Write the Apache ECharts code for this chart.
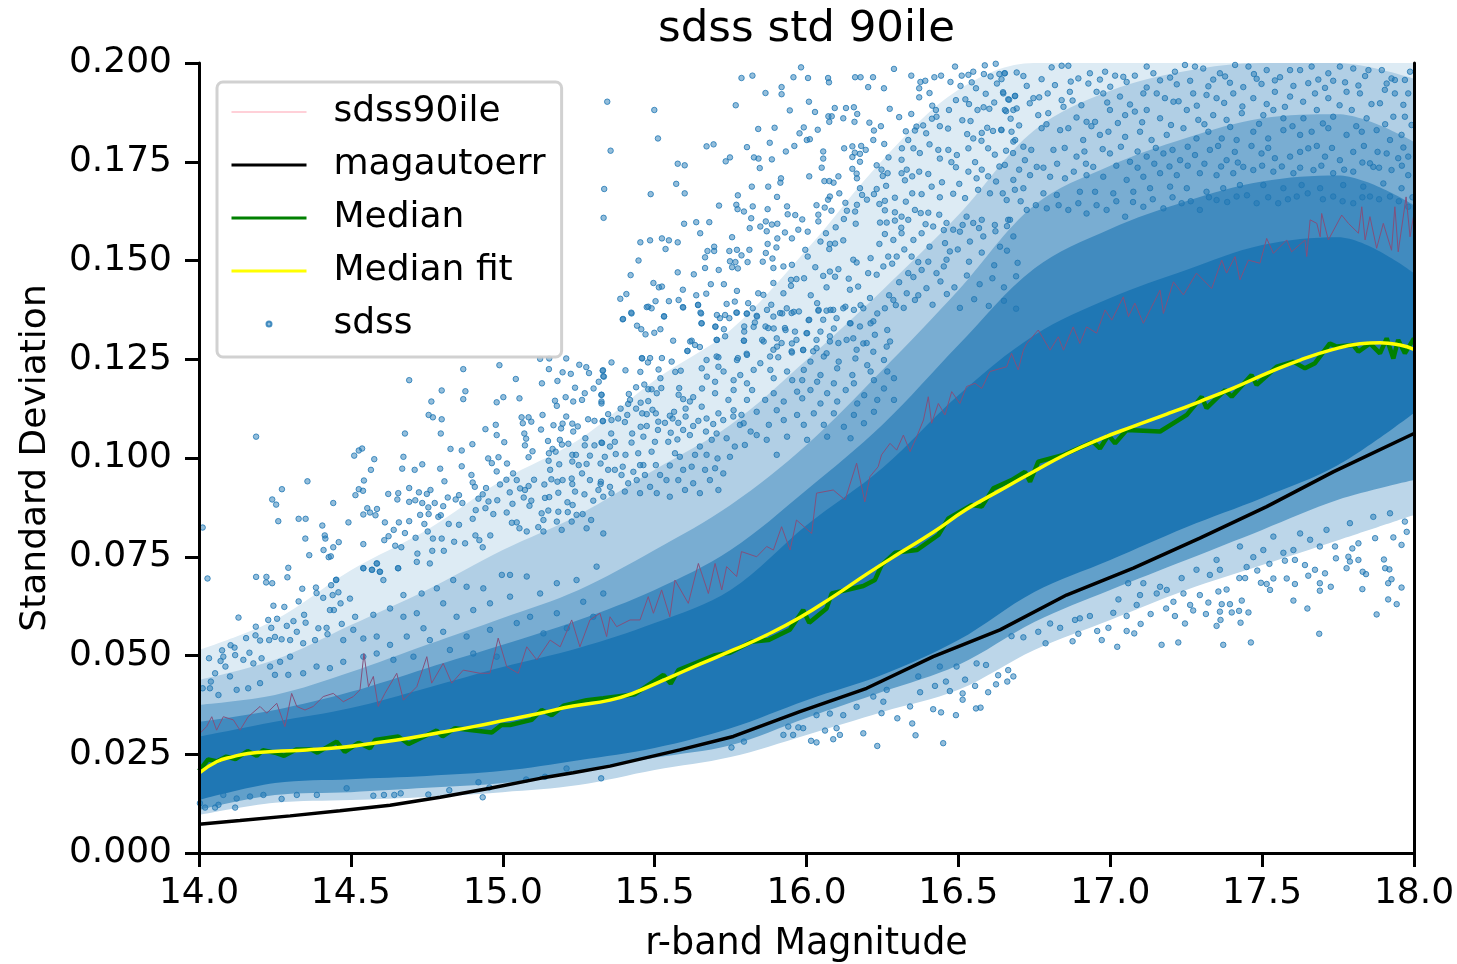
<!DOCTYPE html>
<html>
<head>
<meta charset="utf-8">
<title>sdss std 90ile</title>
<script src="https://cdn.jsdelivr.net/npm/echarts@6/dist/echarts.min.js"></script>
<style>
  html, body { margin: 0; padding: 0; background: #fff; }
  #chart { width: 1457px; height: 964px; }
</style>
</head>
<body>
<div id="chart"></div>
<script>
// edges of the crowded part of the cloud
const bandMag = [14, 14.25, 14.5, 14.75, 15, 15.25, 15.5, 15.75, 16, 16.25, 16.5, 16.75, 17, 17.25, 17.5, 17.75, 18];
const coreHigh = [.0294, .0332, .0367, .0418, .0471, .0519, .0582, .0666, .0830, .0975, .1159, .1311, .1405, .1476, .1539, .1559, .1468];
const coreLow = [.0134, .0177, .0187, .0195, .0208, .0235, .0266, .0316, .0387, .0451, .0539, .0661, .0742, .0825, .0899, .0982, .1114];
const innerHigh = [.0332, .0362, .0408, .0468, .0527, .0590, .0666, .0767, .0919, .1084, .1286, .1480, .1580, .1650, .1700, .1715, .1640];
const midHigh = [.0375, .0400, .0458, .0527, .0595, .0666, .0767, .0881, .1033, .1223, .1425, .1640, .1740, .1810, .1860, .1870, .1800];
const midLow = [.0109, .0147, .0154, .0165, .0177, .0205, .0241, .0273, .0342, .0408, .0476, .0585, .0666, .0742, .0818, .0894, .0944];
const wideHigh = [.0438, .0489, .0577, .0666, .0767, .0856, .0970, .1084, .1248, .1425, .1615, .1830, .1930, .1980, .2, .2, .1960];
const hazeHigh = [.0514, .0590, .0716, .0818, .0944, .1046, .1197, .1324, .1527, .1754, .1932, .2, .2, .2, .2, .2, .2];
const hazeLow = [.0096, .0127, .0134, .0142, .0154, .0172, .0210, .0243, .0299, .0357, .0413, .0514, .0590, .0666, .0729, .0792, .0856];

const sdss90ile = [[14,.0290],[14.003,.0303],[14.025,.0320],[14.042,.0345],[14.058,.0311],[14.080,.0345],[14.113,.0337],[14.135,.0311],[14.162,.0345],[14.201,.0371],[14.223,.0354],[14.256,.0379],[14.283,.0320],[14.305,.0404],[14.322,.0371],[14.349,.0362],[14.376,.0371],[14.409,.0396],[14.442,.0404],[14.475,.0383],[14.508,.0396],[14.530,.0413],[14.543,.0505],[14.558,.0421],[14.574,.0447],[14.590,.0371],[14.612,.0404],[14.651,.0455],[14.673,.0387],[14.717,.0421],[14.750,.0497],[14.766,.0430],[14.804,.0480],[14.832,.0430],[14.870,.0463],[14.925,.0455],[14.958,.0455],[14.985,.0544],[15.013,.0472],[15.051,.0455],[15.079,.0522],[15.112,.0489],[15.156,.0539],[15.189,.0522],[15.227,.0590],[15.254,.0522],[15.287,.0590],[15.320,.0607],[15.342,.0548],[15.353,.0598],[15.375,.0573],[15.419,.0590],[15.452,.0590],[15.479,.0649],[15.496,.0607],[15.523,.0666],[15.550,.0598],[15.567,.0691],[15.611,.0632],[15.644,.0733],[15.677,.0657],[15.699,.0733],[15.721,.0666],[15.737,.0725],[15.770,.0700],[15.786,.0763],[15.836,.0750],[15.869,.0776],[15.891,.0767],[15.918,.0826],[15.946,.0767],[15.967,.0843],[16.017,.0809],[16.033,.0911],[16.088,.0919],[16.127,.0894],[16.165,.0987],[16.192,.0889],[16.209,.0953],[16.236,.0978],[16.247,.1008],[16.275,.1037],[16.297,.1020],[16.319,.1058],[16.341,.1016],[16.363,.1054],[16.385,.1096],[16.401,.1155],[16.412,.1088],[16.434,.1138],[16.456,.1109],[16.478,.1168],[16.505,.1138],[16.527,.1181],[16.555,.1189],[16.577,.1176],[16.604,.1219],[16.659,.1231],[16.675,.1265],[16.697,.1223],[16.714,.1273],[16.725,.1290],[16.763,.1324],[16.802,.1273],[16.829,.1307],[16.846,.1273],[16.878,.1332],[16.900,.1290],[16.922,.1332],[16.955,.1316],[16.983,.1375],[17.005,.1349],[17.043,.1408],[17.060,.1358],[17.081,.1392],[17.109,.1341],[17.164,.1425],[17.175,.1366],[17.208,.1446],[17.241,.1413],[17.284,.1468],[17.334,.1429],[17.367,.1501],[17.383,.1468],[17.411,.1510],[17.427,.1451],[17.455,.1501],[17.493,.1493],[17.515,.1556],[17.537,.1518],[17.581,.1552],[17.597,.1522],[17.641,.1552],[17.647,.1510],[17.658,.1603],[17.680,.1594],[17.691,.1560],[17.696,.1619],[17.718,.1552],[17.762,.1615],[17.784,.1594],[17.817,.1569],[17.828,.1636],[17.839,.1552],[17.855,.1611],[17.877,.1531],[17.899,.1594],[17.926,.1526],[17.937,.1636],[17.948,.1522],[17.974,.1661],[17.987,.1560],[18,.1620]];

const magautoerr = [[14,.0073],[14.135,.0082],[14.30,.0094],[14.464,.0107],[14.629,.0121],[14.794,.0141],[14.958,.0164],[15.123,.0189],[15.232,.0203],[15.353,.0220],[15.583,.0261],[15.759,.0295],[15.978,.0358],[16.198,.0417],[16.417,.0497],[16.637,.0565],[16.856,.0653],[17.076,.0721],[17.295,.0797],[17.515,.0877],[17.734,.0965],[18,.1062]];

const median = [[14,.0208],[14.03,.0237],[14.06,.0232],[14.09,.0244],[14.12,.0238],[14.16,.0258],[14.19,.0246],[14.21,.0260],[14.25,.0254],[14.28,.0246],[14.32,.0262],[14.37,.0262],[14.39,.0254],[14.453,.0282],[14.48,.0256],[14.525,.0279],[14.563,.0265],[14.58,.0286],[14.656,.0295],[14.69,.0276],[14.782,.0310],[14.802,.0295],[14.843,.0316],[14.964,.0305],[14.996,.0324],[15.024,.0324],[15.095,.0337],[15.128,.0362],[15.161,.0349],[15.2,.0373],[15.276,.0387],[15.331,.0392],[15.435,.0402],[15.529,.0451],[15.553,.0429],[15.578,.0463],[15.699,.0501],[15.748,.0507],[15.819,.0535],[15.874,.0539],[15.945,.0565],[15.989,.0615],[16.009,.0583],[16.066,.0619],[16.083,.0657],[16.187,.0676],[16.225,.0691],[16.247,.0729],[16.291,.0760],[16.363,.0767],[16.434,.0805],[16.467,.0847],[16.544,.0881],[16.577,.0877],[16.615,.0923],[16.675,.0944],[16.719,.0965],[16.736,.0940],[16.763,.0991],[16.846,.1008],[16.944,.1041],[16.966,.1024],[16.994,.1058],[17.016,.1037],[17.054,.1071],[17.164,.1067],[17.252,.1109],[17.301,.1155],[17.317,.1126],[17.378,.1172],[17.400,.1155],[17.465,.1210],[17.482,.1185],[17.548,.1231],[17.603,.1244],[17.641,.1227],[17.674,.1240],[17.723,.1290],[17.745,.1282],[17.800,.1286],[17.817,.1269],[17.855,.1290],[17.888,.1265],[17.910,.1303],[17.932,.1252],[17.948,.1299],[17.970,.1265],[18,.1303]];

const medianFit = [[14,.0202],[14.058,.0231],[14.113,.0244],[14.162,.0252],[14.245,.0257],[14.355,.0261],[14.464,.0267],[14.574,.0278],[14.684,.0290],[14.794,.0305],[14.903,.0320],[15.013,.0337],[15.123,.0354],[15.232,.0372],[15.353,.0387],[15.430,.0405],[15.539,.0441],[15.649,.0478],[15.759,.0514],[15.869,.0552],[15.978,.0596],[16.088,.0649],[16.198,.0706],[16.308,.0760],[16.417,.0812],[16.527,.0870],[16.637,.0918],[16.747,.0965],[16.856,.1010],[16.966,.1048],[17.076,.1080],[17.186,.1111],[17.295,.1143],[17.405,.1177],[17.515,.1214],[17.625,.1248],[17.734,.1275],[17.822,.1289],[17.888,.1292],[17.954,.1286],[18,.1275]];

// single dots that can be told apart in the picture
const sdssDots = [
[14.188,.1054],[14.012,.0824],[14.273,.0921],[14.357,.0941],[14.241,.0895],[14.254,.0882],[14.261,.0840],[14.328,.0846],[14.351,.0846],[14.442,.0886],[14.406,.0829],[14.414,.0804],[14.416,.0796],[14.350,.0796],[14.460,.0787],[14.442,.0774],[14.410,.0767],[14.363,.0754],[14.434,.0751],[14.427,.0749],[14.492,.0837],[14.541,.0857],[14.554,.0873],[14.586,.0871],[14.563,.0862],[14.581,.0855],[14.515,.0906],[14.526,.0921],[14.540,.0917],[14.543,.0943],[14.511,.1006],[14.526,.1019],[14.537,.1024],[14.577,.0997],[14.566,.0970],[14.673,.1003],[14.669,.0973],[14.710,.0970],[14.735,.0984],[14.678,.1062],[14.692,.1197],[14.765,.1143],[14.799,.1171],[14.756,.1109],[14.770,.1103],[14.799,.1098],[14.796,.1062],[14.870,.1225],[14.877,.1169],[14.870,.1149],[14.989,.1235],[15.043,.1200],[14.980,.1141],[15.002,.1154],[15.055,.1151],[14.828,.1023],[14.865,.1019],[14.900,.1035],[14.943,.1073],[14.977,.1084],[14.980,.1058],[15.005,.1040],[14.952,.0999],[14.964,.0987],[14.986,.1002],[15.014,.0986],[14.865,.0979],[14.794,.0973],[14.808,.0941],[14.897,.0957],[14.901,.0938],[14.908,.0927],[14.945,.0924],[14.980,.0966],[14.991,.0933],[15.012,.0945],[15.034,.0961],[15.046,.0944],[14.692,.0924],[14.724,.0913],[14.750,.0909],[14.762,.0919],[14.623,.0909],[14.656,.0911],[14.653,.0895],[14.692,.0889],[14.712,.0893],[14.735,.0886],[14.776,.0886],[14.755,.0875],[14.804,.0878],[14.819,.0900],[14.845,.0895],[14.856,.0906],[14.867,.0886],[14.920,.0897],[14.934,.0908],[14.953,.0890],[14.982,.0893],[15.023,.0913],[15.032,.0884],[15.069,.0900],[14.728,.0856],[14.756,.0858],[14.788,.0851],[14.796,.0855],[14.612,.0837],[14.658,.0837],[14.692,.0840],[14.742,.0833],[14.822,.0833],[14.856,.0831],[14.901,.0846],[14.911,.0868],[14.943,.0873],[14.969,.0858],[15.013,.0862],[14.641,.0818],[14.624,.0802],[14.610,.0792],[14.678,.0810],[14.753,.0814],[14.713,.0798],[14.770,.0796],[14.799,.0796],[14.840,.0788],[14.541,.0782],[14.646,.0778],[14.666,.0774],[14.768,.0765],[14.719,.0758],[14.806,.0765],[14.876,.0784],[14.910,.0804],[14.923,.0792],[14.934,.0774],[14.959,.0804],[14.294,.0722],[14.541,.0721],[14.586,.0733],[14.570,.0717],[14.595,.0712],[14.655,.0721],[14.188,.0699],[14.222,.0699],[14.291,.0698],[14.028,.0695],[14.452,.0692],
[15.123,.1251],[15.153,.1252],[15.209,.1252],[15.252,.1236],[15.275,.1230],[15.152,.1225],[15.197,.1217],[15.224,.1213],[15.284,.1215],[15.330,.1222],[15.333,.1206],[15.180,.1195],[15.129,.1189],[15.316,.1193],[15.238,.1178],[15.299,.1176],[15.270,.1164],[15.325,.1160],[15.207,.1154],[15.172,.1145],[15.178,.1132],[15.232,.1143],[15.261,.1147],[15.325,.1143],[15.131,.1109],[15.209,.1105],[15.062,.1103],[15.085,.1103],[15.066,.1088],[15.094,.1092],[15.126,.1072],[15.167,.1083],[15.197,.1087],[15.192,.1075],[15.229,.1087],[15.247,.1080],[15.281,.1098],[15.302,.1094],[15.330,.1094],[15.232,.1067],[15.071,.1062],[15.077,.1049],[15.149,.1043],[15.188,.1046],[15.195,.1034],[15.216,.1036],[15.272,.1050],[15.270,.1032],[15.302,.1032],[15.327,.1038],[15.073,.1032],[15.098,.1017],[15.085,.1002],[15.164,.1023],[15.152,.1012],[15.174,.1016],[15.229,.1008],[15.241,.1008],[15.151,.0993],[15.156,.0970],[15.186,.0984],[15.229,.0991],[15.250,.0982],[15.276,.0985],[15.287,.1006],[15.160,.0946],[15.103,.0945],[15.137,.0933],[15.180,.0940],[15.197,.0944],[15.227,.0948],[15.229,.0934],[15.261,.0961],[15.287,.0944],[15.322,.0934],[15.085,.0929],[15.057,.0923],[15.073,.0919],[15.094,.0892],[15.088,.0879],[15.139,.0899],[15.153,.0901],[15.183,.0912],[15.238,.0915],[15.269,.0908],[15.213,.0888],[15.230,.0881],[15.298,.0892],[15.315,.0919],[15.128,.0860],[15.150,.0867],[15.183,.0864],[15.214,.0863],[15.243,.0856],[15.263,.0858],[15.291,.0843],[15.178,.0839],[15.134,.0843],[15.227,.0839],[15.276,.0822],[15.030,.0836],[15.046,.0837],[15.055,.0822],[15.117,.0825],[15.134,.0814],[15.194,.0818],[15.079,.0814],[15.331,.0809],
[15.344,.1902],[15.499,.1881],[15.511,.1809],[15.355,.1778],[15.334,.1681],[15.332,.1608],[15.487,.1668],[15.571,.1694],[15.599,.1670],[15.576,.1745],[15.599,.1741],[15.671,.1789],[15.694,.1794],[15.767,.1893],[15.786,.1962],[15.822,.1968],[15.865,.1924],[15.918,.1939],[15.918,.1921],[15.957,.1964],[15.982,.1989],[16.005,.1962],[16.071,.1962],[16.074,.1951],[16.160,.1964],[16.178,.1964],[16.219,.1964],[16.288,.1985],[16.203,.1939],[16.255,.1936],[16.345,.1968],[16.008,.1902],[15.945,.1880],[16.028,.1876],[15.841,.1833],[15.895,.1836],[15.991,.1837],[15.977,.1822],[16.037,.1831],[15.879,.1798],[15.804,.1787],
[16.072,.1865],[16.083,.1865],[16.093,.1886],[16.130,.1886],[16.156,.1888],[16.167,.1871],[16.121,.1860],[16.075,.1851],[16.158,.1851],[16.207,.1849],[16.222,.1829],[16.245,.1840],[16.274,.1884],[16.305,.1863],[16.345,.1871],[16.371,.1936],[16.371,.1913],[16.375,.1952],[16.391,.1955],[16.421,.1964],[16.443,.1968],[16.405,.1924],[16.474,.1952],[16.489,.1991],[16.511,.1968],[16.533,.1970],[16.549,.1978],[16.587,.1994],[16.623,.1998],[16.507,.1942],[16.544,.1951],[16.558,.1936],[16.584,.1972],[16.606,.1966],[16.635,.1972],[16.652,.1974],[16.627,.1948],[16.642,.1959],[16.590,.1922],[16.492,.1906],[16.523,.1908],[16.535,.1896],[16.469,.1881],[16.414,.1892],[16.426,.1881],[16.413,.1859],[16.428,.1864],[16.513,.1855],[16.540,.1853],[16.563,.1881],[16.583,.1888],[16.602,.1884],[16.618,.1900],[16.647,.1926],[16.667,.1907],[16.687,.1917],[16.657,.1878],[16.681,.1881],
[16.327,.1827],[16.362,.1839],[16.394,.1822],[16.384,.1842],[16.357,.1829],[16.439,.1840],[16.466,.1834],[16.529,.1820],[16.549,.1809],[16.577,.1823],[16.595,.1836],[16.614,.1828],[16.641,.1831],[16.672,.1859],[16.687,.1805],[16.001,.1805],[16.011,.1807],[15.960,.1790],[15.932,.1776],[15.827,.1761],[15.842,.1758],[15.886,.1756],[15.734,.1751],[15.748,.1761],[15.846,.1734],[16.055,.1776],[16.055,.1758],[16.050,.1735],[16.009,.1713],[16.124,.1784],[16.151,.1789],[16.180,.1790],[16.195,.1780],[16.159,.1773],[16.176,.1770],[16.151,.1762],[16.176,.1750],[16.220,.1805],[16.256,.1795],[16.270,.1761],[16.314,.1784],[16.335,.1805],[16.313,.1755],[16.352,.1784],[16.373,.1772],[16.405,.1794],[16.434,.1780],[16.467,.1780],[16.495,.1767],[16.439,.1758],[16.477,.1749],[16.533,.1784],[16.576,.1803],[16.598,.1784],[16.620,.1768],[16.657,.1778],[16.681,.1801],[16.555,.1749],[16.635,.1738],
[16.231,.1741],[16.247,.1730],[16.267,.1721],[16.251,.1714],[16.151,.1732],[16.165,.1720],[16.166,.1708],[16.105,.1713],[16.059,.1701],[16.075,.1701],[16.089,.1697],[15.916,.1708],[15.914,.1697],[15.874,.1687],[15.820,.1687],[15.774,.1665],[15.903,.1661],[16.176,.1683],[16.183,.1666],[16.199,.1654],[16.222,.1668],[16.231,.1681],[16.262,.1689],[16.108,.1670],[16.077,.1662],[16.071,.1654],[16.313,.1721],[16.330,.1730],[16.348,.1713],[16.324,.1703],[16.371,.1725],[16.401,.1719],[16.446,.1698],[16.492,.1736],[16.503,.1694],[16.533,.1725],[16.560,.1708],[16.598,.1713],[16.624,.1700],[16.577,.1730],
[16.258,.1651],[16.291,.1659],[16.348,.1670],[16.327,.1649],[16.379,.1668],[16.412,.1687],[16.439,.1660],[16.483,.1669],[16.522,.1658],[16.565,.1679],[16.604,.1670],[16.646,.1670],[16.686,.1679],[15.712,.1639],[15.637,.1597],[15.597,.1593],[15.680,.1597],[15.650,.1569],[15.769,.1641],[15.773,.1630],[15.794,.1624],[15.823,.1637],[15.872,.1630],[15.818,.1607],[15.866,.1599],[15.848,.1586],[15.886,.1591],[15.904,.1593],[15.813,.1582],[15.869,.1574],[15.755,.1559],[15.929,.1571],[15.904,.1556],[15.952,.1556],[15.936,.1637],[15.938,.1617],[15.963,.1615],[15.986,.1604],[16.033,.1640],[16.060,.1634],[16.039,.1616],[16.039,.1599],[16.082,.1626],[16.128,.1646],[16.166,.1641],[16.133,.1626],[16.160,.1624],[16.123,.1605],[16.162,.1593],[16.096,.1584],[16.064,.1569],[16.004,.1573],[15.973,.1578],[16.046,.1548],[16.121,.1551],[16.077,.1542],[16.094,.1543],[16.075,.1529],
[16.240,.1643],[16.258,.1627],[16.291,.1622],[16.313,.1611],[16.242,.1596],[16.264,.1596],[16.291,.1601],[16.335,.1603],[16.357,.1628],[16.376,.1620],[16.401,.1621],[16.437,.1616],[16.461,.1595],[16.483,.1578],[16.505,.1573],[16.527,.1611],[16.549,.1595],[16.577,.1603],[16.620,.1590],[16.670,.1603],[16.258,.1567],[16.286,.1552],[16.313,.1569],[16.240,.1542],[16.352,.1552],[16.379,.1569],[16.417,.1586],[16.456,.1544],[16.472,.1523],[16.538,.1548],[16.582,.1561],[16.637,.1535],[16.681,.1561],
[15.453,.1546],[15.485,.1551],[15.524,.1556],[15.547,.1551],[15.576,.1546],[15.536,.1529],[15.447,.1500],[15.421,.1463],[15.576,.1470],[15.629,.1465],[15.496,.1443],[15.514,.1432],[15.524,.1434],[15.593,.1426],[15.387,.1403],[15.407,.1415],[15.547,.1397],[15.579,.1400],[15.503,.1397],[15.637,.1412],[15.670,.1416],[15.728,.1440],[15.685,.1440],[15.666,.1481],[15.711,.1476],[15.666,.1508],[15.674,.1524],[15.696,.1535],[15.696,.1524],[15.746,.1524],[15.771,.1527],[15.748,.1498],[15.766,.1496],[15.755,.1483],[15.774,.1480],[15.786,.1513],[15.812,.1527],[15.806,.1496],[15.866,.1519],[15.901,.1533],[15.872,.1542],[15.856,.1497],[15.888,.1505],[15.891,.1481],[15.924,.1485],[15.952,.1489],[15.996,.1527],[16.004,.1510],[16.029,.1483],[15.771,.1423],[15.891,.1443],[15.949,.1451],[15.967,.1453],[15.992,.1455],[15.949,.1436],[15.841,.1417],[15.858,.1413],[15.924,.1417],[16.014,.1412],
[16.055,.1461],[16.077,.1472],[16.105,.1478],[16.154,.1502],[16.165,.1495],[16.211,.1506],[16.094,.1459],[16.139,.1454],[16.066,.1432],[16.170,.1434],[16.143,.1426],[16.203,.1468],[16.231,.1464],[16.253,.1485],[16.269,.1510],[16.297,.1510],[16.346,.1510],[16.335,.1468],[16.379,.1476],[16.401,.1497],[16.428,.1468],[16.461,.1502],
[15.474,.1382],[15.490,.1379],[15.423,.1368],[15.396,.1352],[15.531,.1359],[15.593,.1382],[15.643,.1388],[15.651,.1368],[15.654,.1341],[15.442,.1335],[15.456,.1326],[15.470,.1313],[15.499,.1317],[15.519,.1326],[15.561,.1297],[15.622,.1297],[15.608,.1271],[15.633,.1286],[15.649,.1281],[15.700,.1333],[15.704,.1299],[15.728,.1326],[15.732,.1308],[15.746,.1354],[15.715,.1354],[15.737,.1390],[15.764,.1396],[15.808,.1392],[15.884,.1388],[15.823,.1379],[15.769,.1368],[15.803,.1365],[15.836,.1360],[15.795,.1333],[15.794,.1297],[15.830,.1343],[15.865,.1333],[15.891,.1358],[15.913,.1367],[15.935,.1379],[15.951,.1367],[15.975,.1371],[16.035,.1392],[16.039,.1373],[16.066,.1373],[16.088,.1375],[16.121,.1379],[16.156,.1375],[16.187,.1379],[16.209,.1405],[16.009,.1350],[16.055,.1350],[16.099,.1354],[16.143,.1341],[16.176,.1333],[16.220,.1346],[16.258,.1379],[16.286,.1400],[16.330,.1417],[16.357,.1400],
[15.854,.1299],[15.902,.1303],[15.874,.1329],[15.929,.1329],[15.962,.1320],[16.000,.1316],[15.967,.1299],[15.918,.1291],[15.891,.1274],[15.951,.1270],[15.989,.1274],[16.033,.1299],[16.077,.1308],[16.105,.1291],[16.154,.1303],[16.198,.1291],[16.225,.1312],[15.704,.1257],[15.774,.1253],[15.803,.1264],[15.880,.1257],[15.458,.1253],[15.485,.1253],[15.524,.1253],[16.022,.1270],[16.066,.1265],[16.165,.1274],[16.264,.1282],
[15.358,.1242],[15.329,.1221],[15.331,.1207],[15.404,.1222],[15.453,.1218],[15.459,.1252],[15.478,.1242],[15.513,.1224],[15.556,.1244],[15.568,.1218],[15.586,.1221],[15.519,.1202],[15.439,.1179],[15.466,.1186],[15.479,.1174],[15.490,.1174],[15.522,.1177],[15.507,.1164],[15.581,.1177],[15.579,.1160],[15.415,.1162],[15.419,.1147],[15.413,.1137],[15.325,.1160],[15.325,.1138],[15.454,.1140],[15.479,.1144],[15.439,.1125],[15.388,.1125],[15.347,.1111],[15.410,.1109],[15.459,.1113],[15.474,.1111],[15.493,.1122],[15.504,.1113],[15.564,.1117],[15.550,.1107],[15.602,.1125],[15.602,.1105],[15.616,.1143],[15.594,.1149],[15.627,.1154],[15.655,.1130],[15.671,.1100],[15.710,.1113],[15.329,.1093],[15.358,.1096],[15.380,.1100],[15.402,.1091],[15.357,.1062],[15.426,.1062],[15.454,.1079],[15.474,.1081],[15.512,.1092],[15.534,.1089],[15.559,.1100],[15.578,.1089],[15.511,.1071],[15.553,.1064],[15.594,.1071],[15.644,.1094],[15.627,.1081],[15.669,.1067],[15.693,.1086],[15.726,.1096],[15.759,.1105],[15.786,.1109],[15.781,.1084],[15.816,.1067],[15.704,.1062],[15.463,.1054],[15.325,.1039],[15.369,.1041],[15.353,.1029],[15.424,.1039],[15.501,.1041],[15.545,.1041],[15.575,.1047],[15.616,.1058],[15.649,.1029],[15.688,.1046],[15.737,.1050],[15.764,.1029],[15.797,.1033],[15.836,.1058],[15.869,.1046],[15.490,.1016],[15.446,.1012],[15.404,.1008],[15.372,.1010],[15.336,.1003],[15.567,.1012],[15.583,.1003],[15.633,.1008],[15.671,.1008],[15.707,.0999],[15.748,.1003],[15.902,.1008],[15.452,.0982],[15.463,.0982],[15.504,.0982],[15.550,.0981],[15.322,.0986],[15.347,.0970],[15.369,.0970],[15.395,.0978],[15.391,.0957],[15.430,.0965],[15.468,.0957],[15.518,.0957],[15.594,.0970],[15.622,.0978],[15.666,.0970],[15.699,.0974],[15.726,.0961],[15.323,.0940],[15.353,.0927],[15.413,.0936],[15.441,.0944],[15.485,.0927],[15.539,.0944],[15.578,.0944],[15.627,.0936],[15.682,.0944],[15.402,.0915],[15.452,.0911],[15.507,.0911],[15.600,.0919],[15.649,.0911],[15.710,.0919],[15.358,.0911],[15.331,.0902],[15.550,.0902],
[15.395,.1351],[15.424,.1366],[15.479,.1383],[15.531,.1358],[15.594,.1381],[15.643,.1387],[15.653,.1366],[15.655,.1341],[15.705,.1362],[15.732,.1362],[15.771,.1368],[15.804,.1366],[15.837,.1358],[15.870,.1375],[15.920,.1366],[15.958,.1370],[16.007,.1349],[16.040,.1375],[16.079,.1375],[16.128,.1383],[16.178,.1387],[16.233,.1366],[16.294,.1387],[15.700,.1332],[15.795,.1320],[15.826,.1332],[15.892,.1328],[15.931,.1324],[16.002,.1316],[16.046,.1320],[16.090,.1328],[16.145,.1341],[16.211,.1341],[16.266,.1324],[15.617,.1295],[15.705,.1299],[15.794,.1297],[15.859,.1295],[15.903,.1282],[15.952,.1290],[15.989,.1273],[16.033,.1278],[16.077,.1295],[16.132,.1299],[16.187,.1290],[16.220,.1269],[16.275,.1295],[15.608,.1271],[15.671,.1248],[15.710,.1255],[15.771,.1248],[15.804,.1261],[15.848,.1240],[15.907,.1255],[15.952,.1267],[16.013,.1244],[16.057,.1257],[16.106,.1244],[16.161,.1252],[16.200,.1235],[16.255,.1248],[15.655,.1227],[15.710,.1231],[15.727,.1219],[15.782,.1210],[15.826,.1223],[15.881,.1223],[15.936,.1219],[15.991,.1223],[16.046,.1210],[16.101,.1227],[16.151,.1210],[16.211,.1219],[16.266,.1219],[15.672,.1206],[15.699,.1193],[15.760,.1197],[15.804,.1189],[15.892,.1202],[15.953,.1197],[15.986,.1197],[16.035,.1193],[16.090,.1189],[16.156,.1189],[16.222,.1197],[16.288,.1202],[15.656,.1176],[15.699,.1164],[15.760,.1172],[15.821,.1172],[15.892,.1164],[15.969,.1168],[16.013,.1172],[16.068,.1164],[16.129,.1172],[16.190,.1159],[16.255,.1176],[15.743,.1147],[15.804,.1147],[15.864,.1147],[15.925,.1143],[15.986,.1151],[16.046,.1138],[16.101,.1143],[16.167,.1138],[16.233,.1147],[16.288,.1147],[15.836,.1117],[15.902,.1121],[15.969,.1109],[16.024,.1113],[16.090,.1113],[16.156,.1109],[16.222,.1117],[15.760,.1121],[15.876,.1084],[15.925,.1096],[15.991,.1084],[16.057,.1084],[16.123,.1079],[16.189,.1088],[15.936,.1054],[16.002,.1046],[16.068,.1054],[16.145,.1050],[15.793,.1088],
[16.312,.1583],[16.392,.1592],[16.452,.1577],[16.514,.1590],[16.568,.1582],[16.622,.1574],[16.660,.1587],[16.282,.1492],[16.322,.1528],[16.368,.1496],[16.405,.1535],[16.452,.1485],[16.498,.1528],[16.535,.1497],[16.577,.1520],[16.618,.1488],[16.660,.1525],[16.695,.1494],[16.305,.1445],[16.352,.1458],[16.395,.1430],[16.441,.1447],[16.487,.1432],[16.528,.1462],[16.570,.1440],[16.612,.1455],[16.650,.1432],[16.690,.1460],[16.272,.1412],[16.320,.1380],[16.368,.1412],[16.415,.1388],[16.462,.1415],[16.505,.1380],[16.552,.1402],[16.600,.1385],[16.650,.1398],[16.690,.1378],
[16.653,.1974],[16.692,.1976],[16.714,.1967],[16.725,.1942],[16.774,.1959],[16.807,.1989],[16.840,.1993],[16.862,.1993],[16.648,.1923],[16.664,.1908],[16.686,.1916],[16.747,.1911],[16.766,.1913],[16.794,.1923],[16.818,.1944],[16.870,.1953],[16.867,.1927],[16.840,.1906],[16.876,.1905],[16.933,.1974],[16.983,.1978],[17.016,.1968],[17.081,.1968],[17.120,.1991],[17.142,.1974],[17.213,.1978],[17.246,.1995],[17.279,.1991],[17.306,.1986],[17.361,.1974],[17.411,.1995],[17.455,.1991],[17.473,.1972],[17.515,.1982],[17.592,.1982],[17.625,.1982],[17.663,.1991],[17.718,.1974],[17.756,.1991],[17.800,.1986],[17.850,.1982],[17.894,.1982],[17.987,.1978],
[16.928,.1948],[17.000,.1940],[17.054,.1952],[17.120,.1938],[17.219,.1946],[17.263,.1955],[17.323,.1941],[17.394,.1950],[17.438,.1939],[17.498,.1947],[17.542,.1956],[17.603,.1942],[17.652,.1949],[17.707,.1937],[17.773,.1951],[17.817,.1943],[17.910,.1948],[17.937,.1957],
[16.955,.1927],[16.977,.1923],[17.032,.1915],[17.109,.1923],[17.153,.1923],[17.180,.1911],[17.208,.1902],[17.273,.1923],[17.317,.1919],[17.350,.1911],[17.405,.1923],[17.471,.1911],[17.542,.1927],[17.592,.1915],[17.674,.1923],[17.718,.1911],[17.778,.1927],[17.822,.1923],[17.904,.1932],[17.937,.1923],[17.981,.1923],
[16.653,.1881],[16.692,.1885],[16.763,.1868],[16.796,.1873],[16.846,.1889],[16.889,.1862],[16.922,.1851],[16.950,.1851],[16.999,.1881],[17.049,.1868],[17.081,.1877],[17.120,.1881],[17.164,.1860],[17.252,.1881],[17.290,.1856],[17.339,.1868],[17.383,.1856],[17.433,.1873],[17.504,.1868],[17.537,.1881],[17.570,.1860],[17.636,.1860],[17.680,.1881],[17.734,.1864],[17.795,.1881],[17.844,.1860],[17.888,.1898],[17.932,.1864],[17.970,.1864],
[16.642,.1830],[16.675,.1826],[16.714,.1788],[16.774,.1835],[16.835,.1830],[16.862,.1835],[16.911,.1805],[16.966,.1818],[16.994,.1826],[17.049,.1813],[17.098,.1826],[17.136,.1805],[17.186,.1818],[17.241,.1835],[17.284,.1809],[17.323,.1826],[17.367,.1809],[17.416,.1805],[17.471,.1826],[17.520,.1809],[17.570,.1830],[17.625,.1818],[17.663,.1826],[17.718,.1835],[17.778,.1818],[17.828,.1826],[17.877,.1830],[17.921,.1805],[17.959,.1818],[17.992,.1843],
[16.653,.1742],[16.719,.1754],[16.758,.1737],[16.813,.1780],[16.889,.1763],[16.944,.1737],[16.999,.1771],[17.065,.1750],[17.120,.1763],[17.175,.1771],[17.230,.1754],[17.279,.1767],[17.328,.1780],[17.383,.1754],[17.438,.1737],[17.498,.1771],[17.542,.1759],[17.592,.1763],[17.652,.1784],[17.707,.1763],[17.756,.1754],[17.800,.1775],[17.855,.1746],[17.910,.1771],[17.948,.1759],[17.981,.1763],
[16.681,.1704],[16.736,.1716],[16.802,.1712],[16.851,.1708],[16.922,.1716],[16.977,.1712],[17.054,.1704],[17.109,.1712],[17.164,.1721],[17.219,.1716],[17.295,.1721],[17.350,.1716],[17.405,.1721],[17.471,.1729],[17.537,.1725],[17.603,.1721],[17.669,.1729],[17.734,.1721],[17.800,.1725],[17.866,.1737],[17.926,.1729],[17.981,.1716],
[16.659,.1653],[16.714,.1683],[16.780,.1670],[16.824,.1666],[16.900,.1674],[16.950,.1674],[17.010,.1670],[17.076,.1674],[17.131,.1683],[17.197,.1687],[17.252,.1683],[17.317,.1674],[17.372,.1683],[17.427,.1691],[17.504,.1691],[17.570,.1683],[17.630,.1691],[17.691,.1683],[17.767,.1691],[17.833,.1687],[17.899,.1695],[17.959,.1683],
[16.664,.1603],[16.725,.1628],[16.791,.1632],[16.862,.1628],[16.922,.1619],[16.988,.1628],[17.049,.1611],[17.109,.1636],[17.175,.1632],[17.235,.1645],[17.295,.1628],[17.350,.1653],[17.416,.1662],[17.482,.1645],[17.553,.1645],[17.614,.1662],[17.734,.1662],[17.800,.1645],[17.855,.1662],[17.921,.1662],[17.981,.1636],
[16.895,.1961],[16.966,.1958],[17.043,.1965],[17.164,.1956],[17.197,.1963],[17.339,.1958],[17.378,.1966],[17.482,.1960],[17.559,.1964],[17.685,.1958],[17.734,.1955],[17.839,.1967],[17.926,.1961],[17.970,.1957],[16.735,.1898],[16.905,.1893],[16.990,.1900],[17.065,.1895],[17.225,.1903],[17.285,.1892],[17.375,.1899],[17.435,.1890],[17.515,.1896],[17.575,.1889],[17.635,.1902],[17.755,.1893],[17.860,.1896],[17.965,.1894],[16.700,.1842],[16.790,.1845],[16.938,.1840],[17.025,.1848],[17.105,.1850],[17.200,.1843],[17.310,.1845],[17.395,.1838],[17.490,.1846],[17.600,.1840],[17.700,.1847],[17.810,.1840],[17.905,.1845],[16.680,.1772],[16.740,.1780],[16.850,.1785],[16.915,.1776],[16.975,.1782],[17.035,.1788],[17.090,.1776],[17.150,.1785],[17.205,.1780],[17.255,.1788],[17.355,.1790],[17.410,.1775],[17.465,.1790],[17.520,.1785],[17.625,.1775],[17.680,.1790],[17.730,.1785],[17.835,.1790],[17.880,.1775],[17.965,.1786],[16.700,.1730],[16.780,.1735],[16.825,.1745],[16.880,.1725],[16.920,.1745],[17.020,.1740],[17.090,.1735],[17.145,.1745],[17.195,.1738],[17.255,.1740],[17.310,.1745],[17.365,.1738],[17.420,.1748],[17.500,.1740],[17.565,.1738],[17.625,.1735],[17.695,.1740],[17.770,.1730],[17.830,.1748],[17.885,.1735],[17.960,.1740],[16.705,.1650],[16.755,.1640],[16.830,.1640],[16.895,.1645],[16.955,.1640],[17.020,.1650],[17.075,.1648],[17.140,.1655],[17.205,.1660],[17.265,.1650],[17.325,.1660],[17.385,.1648],[17.450,.1665],[17.520,.1660],[17.585,.1655],[17.650,.1670],[17.700,.1655],[17.765,.1650],[17.830,.1660],[17.885,.1655],[17.950,.1650],[17.995,.1660],
[17.169,.0527],[17.224,.0533],[17.372,.0527],[17.463,.0533],[17.688,.0555],[17.877,.0604],[17.649,.0619],[17.915,.0642],[17.943,.0630],[17.959,.0672],[17.603,.0639],[17.830,.0668],[17.915,.0683],[17.926,.0693],[17.690,.0664],[17.726,.0674],[17.690,.0683],[17.608,.0681],[17.581,.0695],[17.537,.0695],[17.526,.0666],[17.496,.0684],[17.515,.0681],[17.778,.0721],[17.842,.0706],[17.831,.0712],[17.919,.0718],[17.905,.0721],[17.901,.0743],[17.817,.0742],[17.784,.0750],[17.789,.0738],[17.743,.0746],[17.674,.0717],[17.652,.0702],[17.707,.0708],[17.641,.0729],[17.608,.0742],[17.575,.0740],[17.524,.0732],[17.484,.0715],[17.449,.0724],[17.425,.0696],[17.444,.0696],[17.433,.0639],[17.455,.0609],[17.429,.0583],[17.424,.0613],[17.400,.0609],[17.361,.0611],[17.363,.0590],[17.350,.0575],[17.315,.0605],[17.273,.0614],[17.246,.0581],[17.213,.0600],[17.184,.0619],[17.133,.0605],[17.100,.0580],[17.079,.0556],[17.054,.0562],[16.994,.0570],[16.957,.0562],[16.895,.0555],[16.876,.0536],[16.972,.0539],[17.023,.0522],[17.394,.0630],[17.367,.0630],[17.323,.0634],[17.263,.0628],[17.208,.0636],[17.153,.0657],[17.098,.0653],[17.054,.0600],[17.010,.0608],[17.027,.0642],[17.087,.0628],[17.976,.0813],[17.959,.0780],[17.932,.0799],[17.872,.0797],[17.817,.0784],[17.797,.0771],[17.740,.0776],[17.690,.0776],[17.658,.0793],[17.603,.0767],[17.570,.0760],[17.504,.0767],[17.471,.0749],[17.383,.0667],[17.356,.0662],[17.295,.0653],[17.241,.0657],[17.186,.0666],[17.361,.0717],[17.328,.0704],[17.284,.0717],[17.235,.0696],[17.164,.0674],[17.109,.0683],[17.059,.0683],[16.835,.0570],[16.802,.0581],[16.763,.0560],[16.714,.0546],[16.787,.0531],[16.675,.0549],[16.933,.0600],[16.900,.0594],[16.884,.0590],[17.866,.0851],[17.921,.0860],[17.970,.0839],[17.789,.0835],[17.712,.0818],[17.625,.0809],[17.537,.0801],[17.427,.0776],[17.350,.0742],
[16.450,.0278],[16.233,.0271],[16.359,.0298],[16.187,.0303],[16.299,.0341],[16.348,.0328],[16.492,.0349],[16.558,.0366],[16.573,.0368],[16.598,.0407],[16.443,.0356],[16.417,.0364],[16.514,.0388],[16.514,.0404],[16.472,.0410],[16.555,.0423],[16.624,.0427],[16.661,.0434],[16.681,.0447],[16.664,.0463],[16.631,.0450],[16.522,.0439],[16.459,.0434],[16.423,.0423],[16.374,.0407],[16.341,.0371],[16.247,.0354],[16.253,.0383],[16.165,.0370],[16.121,.0349],[16.099,.0316],[16.110,.0299],[16.088,.0288],[16.061,.0310],[16.015,.0284],[16.033,.0280],[15.924,.0299],[15.956,.0299],[15.973,.0318],[15.940,.0320],[15.989,.0316],[15.794,.0282],[15.753,.0267],[16.033,.0349],[16.077,.0353],[16.439,.0472],[16.494,.0472],[16.560,.0480],[16.591,.0476],[16.368,.0447],[16.264,.0413],[16.220,.0396],
[14.934,.0141],[15.324,.0189],[14.119,.0115],[14.272,.0137],[14.388,.0147],[14.574,.0145],[14.609,.0147],[14.643,.0147],[14.664,.0151],[14.755,.0148],[14.824,.0159],[14.920,.0179],[14.956,.0166],[15.077,.0186],[15.139,.0193],[15.210,.0214],[14.020,.0115],[14.064,.0122],[14.053,.0115],[14.003,.0126],[14.168,.0143],[14.080,.0147],[14.124,.0138],[14.212,.0147],[14.322,.0147],[14.486,.0164],
[14.221,.0685],[14.241,.0683],[14.130,.0596],[14.340,.0669],[14.328,.0637],[14.245,.0626],[14.281,.0623],[14.033,.0493],[14.076,.0513],[14.104,.0526],[14.117,.0520],[14.119,.0501],[14.166,.0507],[14.080,.0497],[14.071,.0486],[14.087,.0472],[14.187,.0573],[14.155,.0544],[14.186,.0551],[14.201,.0538],[14.231,.0539],[14.228,.0590],[14.257,.0593],[14.238,.0570],[14.250,.0547],[14.272,.0541],[14.300,.0539],[14.322,.0560],[14.346,.0603],[14.351,.0583],[14.311,.0587],[14.289,.0575],[14.393,.0569],[14.420,.0570],[14.423,.0554],[14.385,.0672],[14.387,.0658],[14.409,.0646],[14.435,.0678],[14.451,.0691],[14.440,.0653],[14.459,.0660],[14.431,.0615],[14.466,.0632],[14.497,.0644],[14.444,.0615],[14.514,.0598],[14.470,.0580],[14.508,.0565],[14.475,.0539],[14.343,.0531],[14.382,.0539],[14.300,.0497],[14.267,.0484],[14.234,.0472],[14.206,.0493],[14.179,.0480],[14.146,.0489],[14.053,.0455],[14.102,.0447],[14.039,.0434],[14.012,.0417],[14.036,.0417],[14.064,.0400],[14.124,.0413],[14.162,.0417],[14.201,.0430],[14.250,.0451],[14.294,.0451],[14.343,.0455],[14.387,.0472],[14.431,.0468],[14.475,.0484],[14.541,.0497],[14.585,.0505],[14.629,.0527],[14.684,.0548],[14.739,.0569],[14.760,.0539],[14.585,.0548],[14.541,.0543],[14.574,.0603],[14.629,.0619],[14.673,.0653],[14.733,.0657],[14.760,.0733],[14.717,.0737],[14.607,.0691],[14.541,.0721],[14.585,.0733],[14.656,.0721],[14.569,.0717],[14.596,.0712],[14.673,.0598],[14.717,.0607],[14.783,.0670],[14.837,.0691],[14.881,.0674],[14.936,.0670],[14.997,.0704],[15.024,.0704],[14.804,.0632],[14.848,.0598],[14.903,.0615],[14.958,.0632],[15.024,.0649],[15.079,.0700],[15.123,.0657],[15.178,.0683],[15.243,.0691],[15.309,.0725],[15.090,.0598],[15.178,.0607],[15.265,.0636],[15.331,.0657],[14.804,.0560],[14.881,.0548],[14.958,.0565],[15.046,.0582],[15.134,.0556],[15.211,.0569],[15.298,.0598],[14.640,.0489],[14.706,.0497],[14.826,.0514],[14.903,.0505],[14.980,.0497]
];

const FONT = '"DejaVu Sans", sans-serif';
const BLUE = '#1f77b4';

// painted back to front, each one fills down to the x axis and covers the last
const bandLayers = [
  [hazeHigh, '#ddebf4'],
  [wideHigh, '#b1cfe5'],
  [midHigh, '#79add2'],
  [innerHigh, '#418bbf'],
  [coreHigh, BLUE],
  [coreLow, '#62a0ca'],
  [midLow, '#bcd6e9'],
  [hazeLow, '#ffffff'],
];

const zipBand = (vals) => bandMag.map((m, i) => [m, vals[i]]);

const bandSeries = bandLayers.map(([vals, color]) => ({
  type: 'line',
  data: zipBand(vals),
  symbol: 'none',
  smooth: 0.35,
  silent: true,
  z: 1,
  lineStyle: { width: 0, opacity: 0 },
  areaStyle: { color: color, opacity: 1, origin: 'start' },
}));

const lineSeries = (name, data, color, width, z, smooth) => ({
  name: name,
  type: 'line',
  data: data,
  symbol: 'none',
  smooth: smooth || false,
  z: z,
  lineStyle: { color: color, width: width },
  itemStyle: { color: color },
});

const legendLine = (name, color, width) => ({
  name: name,
  lineStyle: { color: color, width: width },
  itemStyle: { color: color, opacity: 0 },
});

const chart = echarts.init(document.getElementById('chart'), null, { renderer: 'canvas' });

chart.setOption({
  animation: false,
  textStyle: { fontFamily: FONT },
  title: {
    text: 'sdss std 90ile',
    left: 801.5,
    top: 3,
    textAlign: 'center',
    textStyle: { fontFamily: FONT, fontSize: 43.5, fontWeight: 'normal', color: '#000' },
  },
  legend: {
    orient: 'vertical',
    left: 217,
    top: 82,
    z: 20,
    padding: [12, 16, 15, 13],
    itemWidth: 75,
    itemHeight: 5,
    itemGap: 17,
    backgroundColor: 'rgba(255,255,255,0.8)',
    borderColor: 'rgba(204,204,204,0.9)',
    borderWidth: 3,
    borderRadius: 6,
    textStyle: { fontFamily: FONT, fontSize: 36, color: '#000', lineHeight: 36, padding: [0, 0, 0, 22] },
    data: [
      legendLine('sdss90ile', '#ffc0cb', 1.5),
      legendLine('magautoerr', '#000', 3),
      legendLine('Median', '#008000', 3),
      legendLine('Median fit', '#ffff00', 3),
      { name: 'sdss', icon: 'circle' },
    ],
  },
  grid: { left: 199, right: 43, top: 63, bottom: 111, outerBoundsMode: 'none' },
  xAxis: [
    {
      type: 'value', min: 14, max: 18, interval: 0.5, z: 10,
      name: 'r-band Magnitude', nameLocation: 'middle', nameGap: 73,
      nameTextStyle: { fontFamily: FONT, fontSize: 36.5, color: '#000' },
      axisLine: { lineStyle: { color: '#000', width: 3 } },
      axisTick: { length: 14, lineStyle: { color: '#000', width: 3 } },
      axisLabel: { fontFamily: FONT, fontSize: 36, color: '#000', margin: 23, formatter: (v) => v.toFixed(1) },
      splitLine: { show: false },
    },
    {
      type: 'value', min: 14, max: 18, position: 'top', z: 10,
      axisLine: { lineStyle: { color: '#000', width: 3 } },
      axisTick: { show: false }, axisLabel: { show: false }, splitLine: { show: false },
    },
  ],
  yAxis: [
    {
      type: 'value', min: 0, max: 0.2, interval: 0.025, z: 10,
      name: 'Standard Deviation', nameLocation: 'middle', nameGap: 145,
      nameTextStyle: { fontFamily: FONT, fontSize: 36, color: '#000' },
      axisLine: { lineStyle: { color: '#000', width: 3 } },
      axisTick: { length: 14, lineStyle: { color: '#000', width: 3 } },
      axisLabel: { fontFamily: FONT, fontSize: 36, color: '#000', margin: 27, padding: [4, 0, 0, 0], formatter: (v) => v.toFixed(3) },
      splitLine: { show: false },
    },
    {
      type: 'value', min: 0, max: 0.2, position: 'right', z: 10,
      axisLine: { lineStyle: { color: '#000', width: 3 } },
      axisTick: { show: false }, axisLabel: { show: false }, splitLine: { show: false },
    },
  ],
  series: [
    ...bandSeries,
    {
      name: 'sdss',
      type: 'scatter',
      data: sdssDots,
      symbolSize: 5.5,
      z: 2,
      itemStyle: { color: 'rgba(31,119,180,0.6)', borderColor: BLUE, borderWidth: 1 },
    },
    lineSeries('sdss90ile', sdss90ile, '#83507c', 1, 3),
    lineSeries('magautoerr', magautoerr, '#000', 3.5, 3),
    lineSeries('Median', median, '#008000', 4.5, 4),
    lineSeries('Median fit', medianFit, '#ffff00', 3.5, 5, true),
  ],
});

window.addEventListener('resize', () => chart.resize());
</script>
</body>
</html>
